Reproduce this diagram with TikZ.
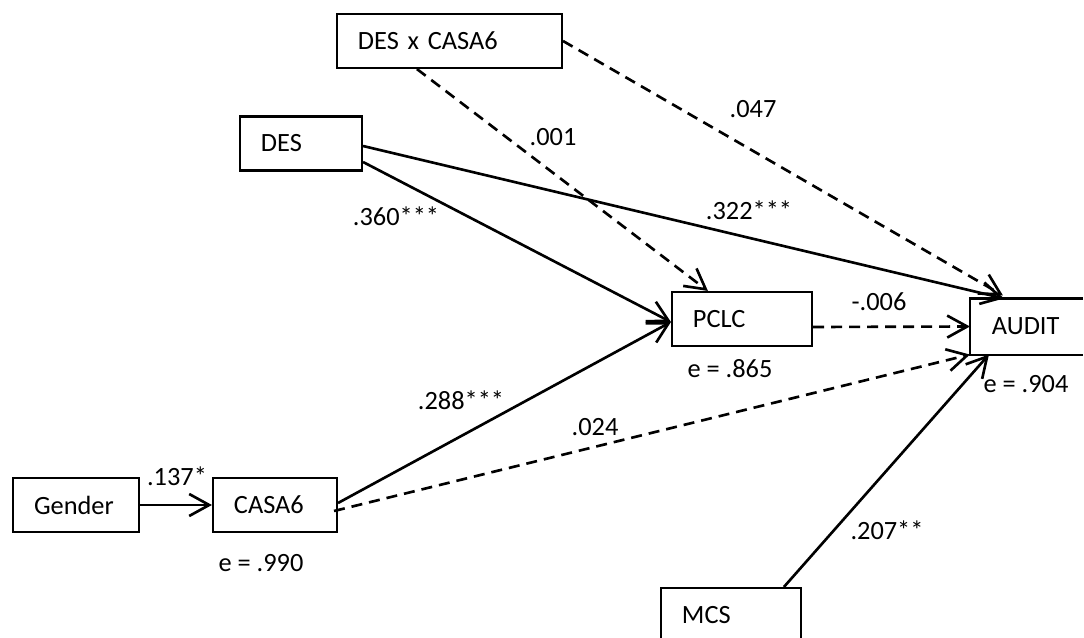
\documentclass[tikz,border=0pt]{standalone}
\usepackage{fontspec}
\setmainfont{Carlito}
\usetikzlibrary{arrows.meta}
\tikzset{
  var/.style={draw, line width=0.6pt, inner xsep=0.21cm, inner ysep=0pt,
    minimum height=0.54cm, text width=#1, align=left},
  effect/.style={line width=0.75pt, -{Straight Barb[length=2mm,width=2.2mm]}},
  nseffect/.style={effect, dash pattern=on 0.11cm off 0.07cm},
}
\begin{document}
\begin{tikzpicture}[font=\fontsize{7.5}{9}\selectfont]
        \useasboundingbox (0,0) rectangle (10.84,6.37);
        % variables
        \node[var=1.83cm] (desx) at (4.495,5.96) {DES x CASA6};
        \node[var=0.80cm] (des) at (3.01,4.935) {DES};
        \node[var=0.98cm] (pclc) at (7.42,3.18) {PCLC};
        \node[var=0.88cm, draw=none] (audit) at (10.36,3.105) {AUDIT};
        \draw[line width=0.6pt] ([xshift=1.13cm]audit.north west) -- (audit.north west)
            -- (audit.south west) -- ([xshift=1.13cm]audit.south west);
        \node[var=0.84cm] (gender) at (0.76,1.32) {Gender};
        \node[var=0.82cm] (casa) at (2.75,1.32) {CASA6};
        \node[var=0.98cm] (mcs) at (7.31,0.22) {MCS};
        % paths
        \draw[effect] (gender.east) -- (casa.west);
        \draw[effect] ([yshift=0.02cm]casa.east) -- ([yshift=-0.03cm]pclc.west);
        \draw[nseffect] ([xshift=-0.04cm,yshift=-0.06cm]casa.east) -- (audit.south west);
        \draw[effect] ([yshift=-0.185cm]des.east) -- ([yshift=-0.03cm]pclc.west);
        \draw[effect] ([yshift=-0.025cm]des.east) -- ([xshift=0.34cm]audit.north west);
        \draw[nseffect] ([xshift=0.81cm]desx.south west) -- ([xshift=0.37cm]pclc.north west);
        \draw[nseffect] (desx.east) -- ([xshift=0.33cm,yshift=0.03cm]audit.north west);
        \draw[nseffect] ([yshift=-0.08cm]pclc.east) -- (audit.west);
        \draw[effect] ([xshift=1.24cm]mcs.north west) -- ([xshift=0.19cm]audit.south west);
        % coefficients and errors
        \foreach \n/\x/\y/\t in {l137/1.77/1.61/.137*, l288/4.61/2.37/.288***,
                l024/5.95/2.10/.024, l360/3.96/4.21/.360***, l322/7.49/4.27/.322***,
                l001/5.53/5.00/.001, l047/7.53/5.28/.047, l006/8.79/3.35/-.006,
                l207/8.87/1.07/.207**, e865/7.30/2.68/e = .865,
                e904/10.26/2.53/e = .904, e990/2.61/0.74/e = .990} {
                \node[inner sep=0pt] (\n) at (\x,\y) {\t};
            }
    \end{tikzpicture}
\end{document}
